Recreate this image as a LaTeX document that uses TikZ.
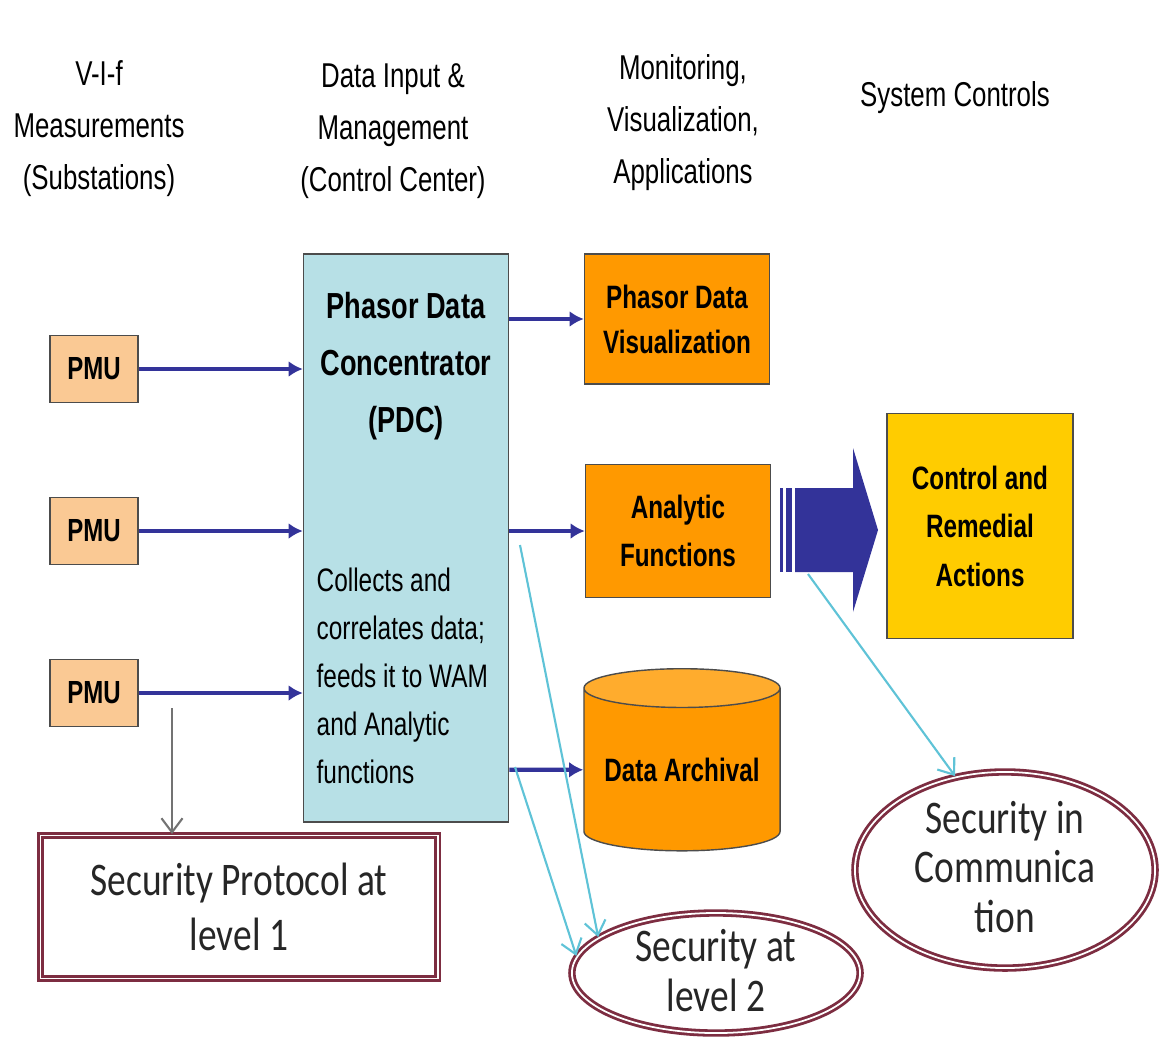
\documentclass[tikz,border=0pt]{standalone}
\usepackage{fontspec}
\setmainfont{Liberation Sans}[FakeStretch=0.75]
\newfontfamily\secfont{Carlito}[FakeStretch=0.8]
\usetikzlibrary{shapes.geometric,arrows.meta}
\definecolor{pmupeach}{RGB}{250,201,148}
\definecolor{pdcblue}{RGB}{183,224,230}
\definecolor{apporange}{RGB}{255,153,0}
\definecolor{archtop}{RGB}{255,172,45}
\definecolor{ctlyellow}{RGB}{255,204,0}
\definecolor{linknavy}{RGB}{51,51,153}
\definecolor{seccyan}{RGB}{95,195,215}
\definecolor{secmaroon}{RGB}{125,45,65}

\begin{document}
\begin{tikzpicture}[x=0.01cm,y=-0.01cm,inner sep=0pt]
\tikzstyle{hdr}=[align=center,font=\fontsize{9.8}{14.8}\selectfont]
\tikzstyle{pmu}=[rectangle,draw=black!70,fill=pmupeach,minimum width=0.88cm,minimum height=0.67cm,font=\bfseries\fontsize{9.1}{11}\selectfont]
\tikzstyle{app}=[rectangle,draw=black!70,fill=apporange,minimum width=1.85cm,align=center,font=\bfseries\fontsize{9.2}{13.8}\selectfont]
\tikzstyle{connect}=[-{Latex[length=4pt,width=4.5pt]},line width=1.2pt,linknavy]
\tikzstyle{secline}=[-{Straight Barb[length=4pt,width=6pt]},seccyan,line width=0.6pt]
\tikzstyle{secring}=[draw=secmaroon,double=white,line width=0.8pt,double distance=0.5pt]
\tikzstyle{sectext}=[align=center,text=black!85,font=\secfont\fontsize{13.3}{14.2}\selectfont]
\fill[white] (0,0) rectangle (1161,1036);
\useasboundingbox (0,0) rectangle (1161,1036);
% column headings
\node[hdr] (hmeas) at (99,129) {V-I-f\\Measurements\\(Substations)};
\node[hdr] (hdata) at (393,131) {Data Input \&\\Management\\(Control Center)};
\node[hdr] (hmon) at (683,123) {Monitoring,\\Visualization,\\Applications};
\node[hdr] (hsys) at (955,98) {System Controls};
% measurements
\node[pmu] (pmua) at (94,369) {PMU};
\node[pmu] (pmub) at (94,531) {PMU};
\node[pmu] (pmuc) at (94,693) {PMU};
% concentrator
\node[rectangle,draw=black!70,fill=pdcblue,minimum width=2.05cm,minimum height=5.68cm] (pdc) at (406,538) {};
\node[align=center,font=\bfseries\fontsize{10.3}{16.2}\selectfont] (pdctitle) at (406,366) {Phasor Data\\Concentrator\\(PDC)};
\node[anchor=west,align=left,font=\fontsize{9.25}{13.7}\selectfont] (pdcnote) at (316,676) {Collects and\\correlates data;\\feeds it to WAM\\and Analytic\\functions};
% applications
\node[app,minimum height=1.30cm,font=\bfseries\fontsize{9.2}{12.8}\selectfont] (viz) at (677,319) {Phasor Data\\Visualization};
\node[app,minimum height=1.33cm] (ana) at (678,531) {Analytic\\Functions};
\node[cylinder,shape border rotate=90,aspect=0.25,anchor=north,draw=black!70,cylinder uses custom fill,cylinder body fill=apporange,cylinder end fill=archtop,minimum width=1.96cm,minimum height=1.82cm,font=\bfseries\fontsize{9.2}{11}\selectfont] (arc) at (682,668) {Data Archival};
\node[app,fill=ctlyellow,minimum width=1.86cm,minimum height=2.25cm] (ctl) at (980,526) {Control and\\Remedial\\Actions};
% security
\node[rectangle,secring,fill=white,minimum width=3.97cm,minimum height=1.43cm,align=center,text=black!85,font=\secfont\fontsize{13.3}{15.6}\selectfont] (secp) at (239,907) {Security Protocol at\\level 1};
\node[ellipse,secring,minimum width=2.88cm,minimum height=1.20cm] (secb) at (716,973) {};
\node[sectext] (secbtext) at (716,971) {Security at\\level 2};
\node[ellipse,secring,minimum width=3.0cm,minimum height=1.96cm] (secc) at (1005,870) {};
\node[sectext] (secctext) at (1005,867) {Security in\\Communica\\tion};
% data links
\draw[connect] (pmua) -- (pmua -| pdc.west);
\draw[connect] (pmub) -- (pmub -| pdc.west);
\draw[connect] (pmuc) -- (pmuc -| pdc.west);
\draw[connect] (viz -| pdc.east) -- (viz);
\draw[connect] (ana -| pdc.east) -- (ana);
\draw[connect] (pdc.east |- arc) -- (arc);
% control action
\fill[linknavy] (795,488) -- (853,488) -- (853,448) -- (878,530) -- (853,612) -- (853,572) -- (795,572) -- cycle;
\fill[linknavy] (780,488) rectangle (783,572);
\fill[linknavy] (786,488) rectangle (792,572);
% security pointers
\coordinate (pmutap) at (172,708);
\coordinate (pdcfeed) at (520,545);
\coordinate (pdcstore) at (515,767);
\coordinate (anaout) at (808,574);
\draw[-{Straight Barb[length=4pt,width=6pt]},black!55,line width=0.6pt] (pmutap) -- (pmutap |- secp.north);
\draw[secline] (pdcfeed) -- (secb.163);
\draw[secline] (pdcstore) -- (secb.173);
\draw[secline] (anaout) -- (secc.118);
\end{tikzpicture}
\end{document}
